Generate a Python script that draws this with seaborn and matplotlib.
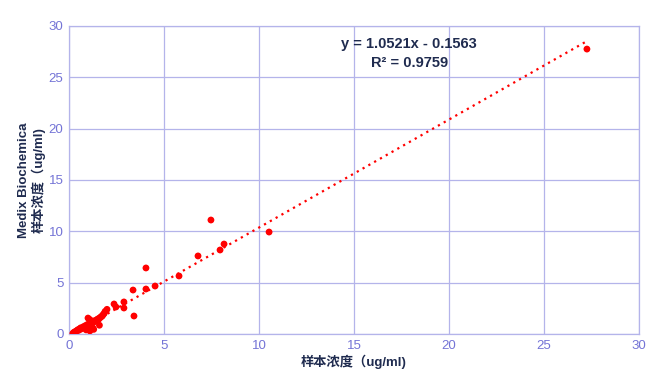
import numpy as np
import matplotlib
matplotlib.use("Agg")
import matplotlib.pyplot as plt
import seaborn as sns
import pandas as pd

sample_x = [0.2, 0.25, 0.3, 0.35, 0.4, 0.45, 0.5, 0.55, 0.6, 0.62, 0.7, 0.75, 0.8, 0.85,
            0.9, 0.95, 1.0, 1.0, 1.05, 1.1, 1.1, 1.15, 1.2, 1.25, 1.3, 1.35, 1.4, 1.45,
            1.5, 1.55, 1.6, 1.6, 1.65, 1.7, 1.75, 1.8, 1.85, 1.9, 2.0,
            0.9, 1.0, 1.1, 1.25, 1.3,
            2.37, 2.47, 2.89, 2.89, 3.42, 3.37, 4.05, 4.05, 4.53, 5.79, 6.79,
            7.47, 7.95, 8.16, 10.53, 27.26]
medix_y = [0.05, 0.15, 0.2, 0.25, 0.3, 0.4, 0.35, 0.5, 0.45, 0.6, 0.55, 0.7, 0.65, 0.8,
           0.75, 0.9, 0.85, 1.55, 1.0, 1.4, 0.95, 1.1, 1.05, 1.2, 1.15, 1.3, 1.25, 1.35,
           1.45, 1.4, 1.55, 0.85, 1.6, 1.7, 1.75, 1.9, 2.0, 2.2, 2.4,
           0.4, 0.5, 0.3, 0.6, 0.45,
           2.92, 2.63, 3.12, 2.53, 1.75, 4.28, 6.43, 4.38, 4.67, 5.65, 7.6,
           11.1, 8.18, 8.76, 9.93, 27.75]

slope = 1.0521
intercept = -0.1563
r2 = 0.9759

x_ticks = [0, 5, 10, 15, 20, 25, 30]
y_ticks = [0, 5, 10, 15, 20, 25, 30]

df = pd.DataFrame({"x": sample_x, "y": medix_y})

sns.set_style("white")
plt.rcParams['font.family'] = ['Liberation Sans', 'Noto Sans CJK SC', 'DejaVu Sans']

fig = plt.figure(figsize=(6.61, 3.72), dpi=100)
ax = fig.add_axes([0.1044, 0.1022, 0.8623, 0.828])

grid_c = '#b4b4ea'
tick_c = '#7474d6'
label_c = '#1f2b4f'

xs = np.array([min(sample_x), max(sample_x)])
ax.plot(xs, slope * xs + intercept, linestyle=(0, (1, 2)), color='#ff0000',
        linewidth=1.6, zorder=2)
sns.scatterplot(data=df, x="x", y="y", ax=ax, color='#ff0000', s=24,
                edgecolor='none', zorder=3)

ax.set_xlim(0, 30)
ax.set_ylim(0, 30)
ax.set_xticks(x_ticks)
ax.set_yticks(y_ticks)
ax.grid(True, color=grid_c, linewidth=0.9)
ax.set_axisbelow(True)
for s in ax.spines.values():
    s.set_color(grid_c)
    s.set_linewidth(0.9)
ax.tick_params(axis='both', colors=tick_c, labelsize=9.5, length=0, pad=4)

ax.set_xlabel("样本浓度（ug/ml)", color=label_c, fontsize=9.5, fontweight='bold', labelpad=2)
ax.set_ylabel("Medix Biochemica\n样本浓度（ug/ml)", color=label_c, fontsize=9.5,
              fontweight='bold', labelpad=2, linespacing=1.1)

ax.text(17.9, 27.35, f"y = {slope}x - {abs(intercept)}\nR² = {r2}", ha='center', va='center',
        color=label_c, fontsize=10.5, fontweight='bold', linespacing=1.45)

fig.savefig("out.png", dpi=100, facecolor='white')
